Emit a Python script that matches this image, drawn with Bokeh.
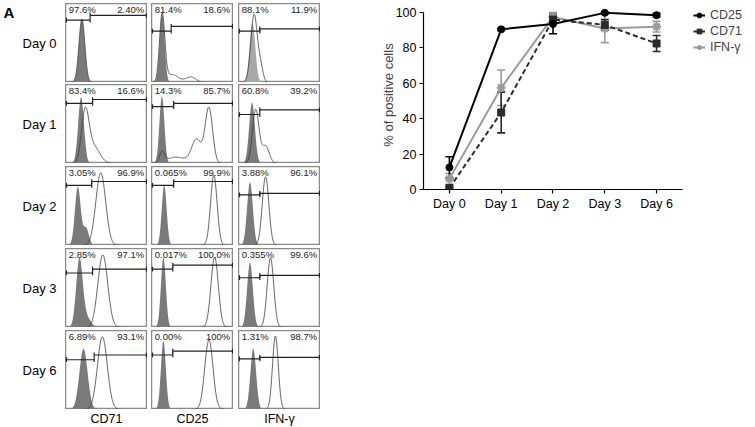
import numpy as np
from bokeh.plotting import figure
from bokeh.layouts import row, column
from bokeh.models import (Range1d, FixedTicker, ColumnDataSource, Whisker, TeeHead,
                          Legend, LegendItem, Label)
from bokeh.core.properties import value
from bokeh.embed import file_html
from bokeh.resources import INLINE

FONT = "Liberation Sans"

# ---------------- Panel B data ----------------
days = ["Day 0", "Day 1", "Day 2", "Day 3", "Day 6"]
cd25 = [12.5, 90.5, 93.5, 99.8, 98.5]
cd25_err = [6.0, 0.6, 5.5, 0.5, 1.0]
cd71 = [0.8, 43.5, 96.0, 93.0, 82.5]
cd71_err = [0.6, 11.5, 2.0, 3.0, 4.5]
ifng = [6.0, 57.5, 97.5, 91.0, 92.0]
ifng_err = [3.0, 10.0, 2.5, 8.0, 3.0]

# ---------------- Panel A data ----------------
markers = ["CD71", "CD25", "IFN-\u03b3"]
pct_left = [["97.6%", "81.4%", "88.1%"],
            ["83.4%", "14.3%", "60.8%"],
            ["3.05%", "0.065%", "3.88%"],
            ["2.85%", "0.017%", "0.355%"],
            ["6.89%", "0.00%", "1.31%"]]
pct_right = [["2.40%", "18.6%", "11.9%"],
             ["16.6%", "85.7%", "39.2%"],
             ["96.9%", "99.9%", "96.1%"],
             ["97.1%", "100.0%", "99.6%"],
             ["93.1%", "100%", "98.7%"]]
# gate split position and heights of the two gate bars (fraction of panel)
gate_x = [[0.30, 0.24, 0.26], [0.33, 0.27, 0.26], [0.32, 0.27, 0.26],
          [0.33, 0.26, 0.26], [0.35, 0.26, 0.26]]
gate_left_h = [[0.79, 0.65, 0.65], [0.76, 0.72, 0.62], [0.76, 0.76, 0.64],
               [0.69, 0.74, 0.63], [0.63, 0.69, 0.64]]
gate_right_h = [[0.85, 0.71, 0.68], [0.81, 0.76, 0.68], [0.81, 0.81, 0.66],
                [0.74, 0.79, 0.66], [0.69, 0.74, 0.66]]
# histogram peaks: (position, width, height)
fill_peaks = [
    [[(0.20, 0.035, 0.80)], [(0.13, 0.030, 0.87)], [(0.17, 0.035, 0.75)]],
    [[(0.19, 0.035, 0.84)], [(0.127, 0.030, 0.85)], [(0.165, 0.035, 0.77)]],
    [[(0.15, 0.035, 0.74), (0.25, 0.035, 0.22)], [(0.155, 0.030, 0.76)], [(0.14, 0.035, 0.80)]],
    [[(0.17, 0.040, 0.86), (0.26, 0.050, 0.12)], [(0.145, 0.030, 0.89)], [(0.14, 0.035, 0.82)]],
    [[(0.22, 0.050, 0.77)], [(0.145, 0.030, 0.87)], [(0.18, 0.035, 0.77)]],
]
open_peaks = [
    [[(0.20, 0.036, 0.80)],
     [(0.13, 0.032, 0.85), (0.25, 0.08, 0.10), (0.48, 0.06, 0.07)],
     [(0.19, 0.040, 0.86), (0.27, 0.03, 0.18)]],
    [[(0.24, 0.045, 0.62), (0.34, 0.075, 0.22)],
     [(0.13, 0.030, 0.13), (0.30, 0.12, 0.08), (0.55, 0.06, 0.30), (0.70, 0.045, 0.70)],
     [(0.21, 0.040, 0.68), (0.33, 0.045, 0.22)]],
    [[(0.43, 0.060, 0.92)], [(0.76, 0.040, 0.89)], [(0.33, 0.040, 0.87)]],
    [[(0.455, 0.060, 0.92)], [(0.77, 0.045, 0.89)], [(0.39, 0.040, 0.88)]],
    [[(0.45, 0.060, 0.92)], [(0.70, 0.050, 0.88)], [(0.45, 0.035, 0.93)]],
]
fill_colors = [["#7a7a7a", "#7a7a7a", "#a8a8a8"]] + [["#7a7a7a"] * 3 for _ in range(4)]


def density(xs, peaks):
    y = np.zeros_like(xs)
    for c, s, h in peaks:
        y += h * np.exp(-0.5 * ((xs - c) / s) ** 2)
    return y


LABEL_W, PANEL_W, PANEL_H = 65, 82, 79
COL_GAPS = [0, 4, 5]
ROW_GAPS = [3, 2, 3, 3, 3]
TOTAL_H = 427
BOTTOM_H = TOTAL_H - sum(ROW_GAPS) - 5 * PANEL_H


def blank(width, height, **kw):
    p = figure(width=width, height=height, output_backend="svg", toolbar_location=None,
               min_border=0, x_axis_location=None, y_axis_location=None, **kw)
    p.grid.visible = False
    return p


def hist_panel(r, c):
    p = blank(PANEL_W, PANEL_H, x_range=Range1d(0, 1), y_range=Range1d(0, 1),
              outline_line_color="#8a8a8a", outline_line_width=1.5,
              margin=(0, 0, 0, COL_GAPS[c]))
    xs = np.linspace(0, 1, 301)
    p.varea(x=xs, y1=np.zeros_like(xs), y2=density(xs, fill_peaks[r][c]),
            fill_color=fill_colors[r][c])
    p.line(xs, density(xs, open_peaks[r][c]), line_color="#3c3c3c", line_width=0.8)
    g, hl, hr = gate_x[r][c], gate_left_h[r][c], gate_right_h[r][c]
    d = 0.03
    p.segment(x0=[0, g], y0=[hl, hr], x1=[g, 1], y1=[hl, hr], line_color="#222222", line_width=1.2)
    p.segment(x0=[0.012, g, g, 0.988], y0=[hl - d, hl - d, hr - d, hr - d],
              x1=[0.012, g, g, 0.988], y1=[hl + d, hl + d, hr + d, hr + d],
              line_color="#222222", line_width=1.2)
    p.text(x=[0.04], y=[0.99], text=[pct_left[r][c]], text_font=value(FONT),
           text_font_size="9.5px", text_align="left", text_baseline="top", text_color="#222222")
    p.text(x=[0.96], y=[0.99], text=[pct_right[r][c]], text_font=value(FONT),
           text_font_size="9.5px", text_align="right", text_baseline="top", text_color="#222222")
    return p


rowsA = []
for r, day in enumerate(days):
    lab = blank(LABEL_W, PANEL_H, x_range=Range1d(0, LABEL_W), y_range=Range1d(0, 1),
                outline_line_color=None)
    if r == 0:
        lab.text(x=[3], y=[0.995], text=["A"], text_font=value(FONT), text_font_style="bold",
                 text_font_size="15px", text_baseline="top", text_align="left")
    lab.text(x=[39], y=[0.5], text=[day], text_font=value(FONT),
             text_font_size="13px", text_baseline="middle", text_align="center")
    rowsA.append(row(lab, *[hist_panel(r, c) for c in range(3)], margin=(ROW_GAPS[r], 0, 0, 0)))

bottom = [blank(LABEL_W, BOTTOM_H, x_range=Range1d(0, 1), y_range=Range1d(0, 1),
                outline_line_color=None)]
for c, name in enumerate(markers):
    lab = blank(PANEL_W, BOTTOM_H, x_range=Range1d(0, 1), y_range=Range1d(0, 1),
                outline_line_color=None, margin=(0, 0, 0, COL_GAPS[c]))
    lab.text(x=[0.5], y=[0.5], text=[name], text_font=value(FONT), text_font_size="12.5px",
             text_align="center", text_baseline="middle")
    bottom.append(lab)
panelA = column(*rowsA, row(*bottom))

# ---------------- Panel B ----------------
x_idx = list(range(len(days)))
B_W = 755 - LABEL_W - 3 * PANEL_W - sum(COL_GAPS)
pB = figure(width=B_W, height=TOTAL_H, x_range=Range1d(-0.5, 5.91), y_range=Range1d(0, 106.78),
            output_backend="svg", toolbar_location=None,
            min_border_left=103, min_border_right=0, min_border_top=0, min_border_bottom=238)
pB.grid.visible = False
pB.outline_line_color = None
pB.xaxis.bounds = (-0.5, 4.5)
pB.yaxis.bounds = (0, 100)
pB.xaxis.ticker = FixedTicker(ticks=x_idx)
pB.xaxis.major_label_overrides = {i: d for i, d in enumerate(days)}
pB.yaxis.ticker = FixedTicker(ticks=[0, 20, 40, 60, 80, 100])
pB.yaxis.axis_label = "% of positive cells"
for ax in (pB.xaxis[0], pB.yaxis[0]):
    ax.axis_line_color = "black"
    ax.axis_line_width = 1.2
    ax.major_tick_out = 4
    ax.major_tick_in = 0
    ax.major_tick_line_width = 1.2
    ax.minor_tick_line_color = None
    ax.major_label_text_font = FONT
    ax.major_label_text_font_size = "12.5px"
    ax.major_label_text_color = "black"
    ax.major_label_standoff = 3
    ax.axis_label_text_font = FONT
    ax.axis_label_text_font_size = "13px"
    ax.axis_label_text_font_style = "normal"
pB.yaxis.axis_label_standoff = -3

series = [
    ("CD25", cd25, cd25_err, "#000000", "solid", "circle", 7),
    ("CD71", cd71, cd71_err, "#2b2b2b", "5 3", "square", 7),
    ("IFN-\u03b3", ifng, ifng_err, "#9a9a9a", "solid", "asterisk", 9),
]
items = []
for name, vals, errs, col, dash, mk, sz in reversed(series):
    src = ColumnDataSource(dict(x=x_idx, y=vals,
                                upper=[v + e for v, e in zip(vals, errs)],
                                lower=[v - e for v, e in zip(vals, errs)]))
    w = Whisker(source=src, base="x", upper="upper", lower="lower",
                line_color=col, line_width=1.6,
                upper_head=TeeHead(size=8, line_color=col, line_width=1.6),
                lower_head=TeeHead(size=8, line_color=col, line_width=1.6))
    pB.add_layout(w)
    ln = pB.line("x", "y", source=src, line_color=col, line_width=2, line_dash=dash)
    if mk == "asterisk":
        sc = pB.scatter("x", "y", source=src, marker=mk, size=sz, line_color=col, line_width=2.2)
    else:
        sc = pB.scatter("x", "y", source=src, marker=mk, size=sz, fill_color=col, line_color=col)
    items.append((name, [ln, sc]))

legend = Legend(items=[LegendItem(label=n, renderers=r) for n, r in reversed(items)],
                location=(270, 134), border_line_color=None, background_fill_alpha=0,
                padding=0, margin=0, spacing=0, glyph_width=12, glyph_height=16,
                label_height=16, label_standoff=5, label_text_font=FONT,
                label_text_font_size="12.5px")
pB.add_layout(legend)

pB.add_layout(Label(x=-1.66, y=105.1, text="B", text_font=FONT, text_font_style="bold",
                    text_font_size="15px", text_baseline="top", text_align="left"))

layout = row(panelA, pB)
open("out.html", "w").write(file_html(layout, INLINE))
